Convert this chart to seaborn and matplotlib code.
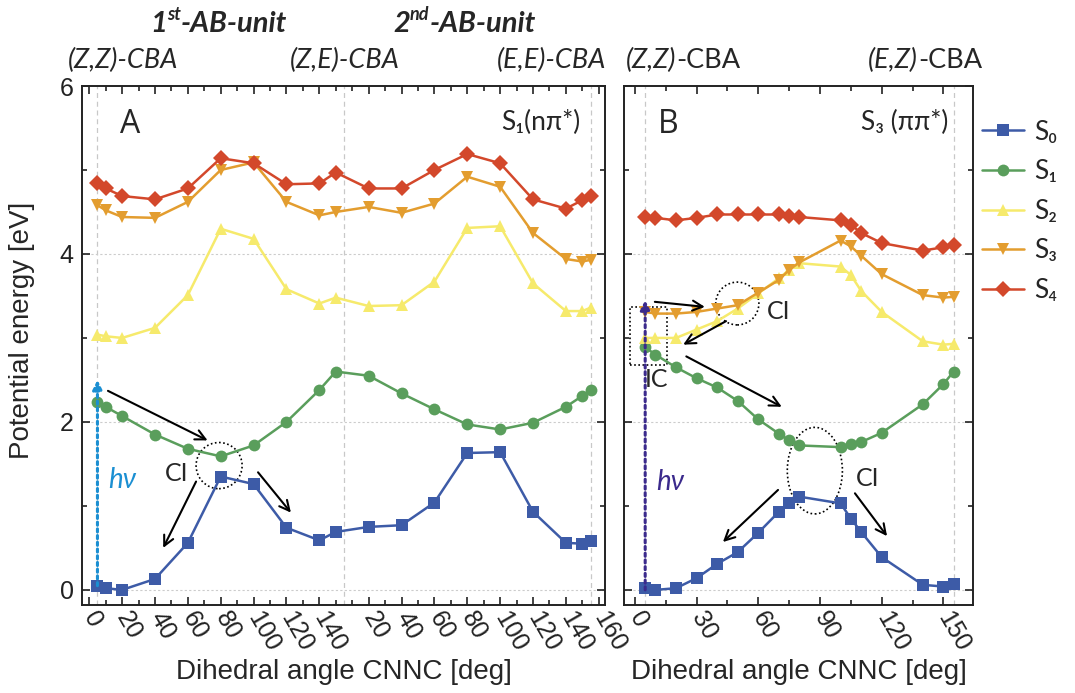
import matplotlib
matplotlib.use("Agg")
import matplotlib.pyplot as plt
from matplotlib.patches import Ellipse, Rectangle
from matplotlib.ticker import FixedLocator, MultipleLocator
import pandas as pd
import seaborn as sns

states = ["S₀", "S₁", "S₂", "S₃", "S₄"]
colors = ["#3d5ba7", "#5a9e5c", "#f6ea6c", "#e39d2f", "#d3482b"]
markers = ["s", "o", "^", "v", "D"]

# panel A: scan coordinate, 1st unit 0-150, 2nd unit shifted by +150
scan_a = [5, 10, 20, 40, 60, 80, 100, 120, 140, 150, 170, 190, 210, 230, 250, 270, 290, 300, 305]
s0_a = [0.05, 0.02, 0.00, 0.13, 0.56, 1.35, 1.26, 0.74, 0.59, 0.69, 0.75, 0.77, 1.04, 1.63, 1.64, 0.93, 0.56, 0.55, 0.58]
s1_a = [2.24, 2.18, 2.07, 1.85, 1.68, 1.59, 1.72, 2.00, 2.38, 2.60, 2.55, 2.34, 2.15, 1.97, 1.91, 1.99, 2.18, 2.31, 2.38]
s2_a = [3.04, 3.02, 3.00, 3.12, 3.51, 4.30, 4.18, 3.58, 3.41, 3.48, 3.38, 3.39, 3.67, 4.31, 4.33, 3.65, 3.32, 3.32, 3.36]
s3_a = [4.58, 4.52, 4.44, 4.43, 4.62, 5.00, 5.09, 4.62, 4.46, 4.50, 4.56, 4.49, 4.60, 4.92, 4.80, 4.25, 3.94, 3.91, 3.93]
s4_a = [4.85, 4.78, 4.69, 4.65, 4.78, 5.14, 5.08, 4.83, 4.84, 4.97, 4.78, 4.78, 5.00, 5.19, 5.08, 4.65, 4.54, 4.64, 4.69]

# panel B: dihedral angle of the single unit
angle_b = [5, 10, 20, 30, 40, 50, 60, 70, 75, 80, 100, 105, 110, 120, 140, 150, 155]
s0_b = [0.02, 0.00, 0.02, 0.14, 0.31, 0.45, 0.68, 0.93, 1.03, 1.11, 1.03, 0.85, 0.69, 0.39, 0.06, 0.04, 0.07]
s1_b = [2.89, 2.80, 2.65, 2.52, 2.41, 2.25, 2.03, 1.86, 1.78, 1.72, 1.70, 1.74, 1.76, 1.87, 2.21, 2.45, 2.60]
s2_b = [3.00, 3.00, 3.00, 3.10, 3.20, 3.35, 3.53, 3.71, 3.81, 3.89, 3.85, 3.75, 3.56, 3.31, 2.96, 2.92, 2.93]
s3_b = [3.31, 3.29, 3.29, 3.31, 3.35, 3.39, 3.54, 3.69, 3.81, 3.90, 4.16, 4.09, 3.98, 3.76, 3.51, 3.48, 3.49]
s4_b = [4.44, 4.43, 4.40, 4.43, 4.47, 4.47, 4.47, 4.47, 4.45, 4.44, 4.40, 4.35, 4.25, 4.13, 4.04, 4.08, 4.11]

ticks_a = [0, 20, 40, 60, 80, 100, 120, 140, 170, 190, 210, 230, 250, 270, 290, 310]
ticklabels_a = ["0", "20", "40", "60", "80", "100", "120", "140",
                "20", "40", "60", "80", "100", "120", "140", "160"]

sns.set_style("ticks")
plt.rcParams["font.family"] = ["Lato", "DejaVu Sans"]
num_font = ["Liberation Sans", "DejaVu Sans"]


def long_frame(x, series):
    df = pd.DataFrame({"x": x, **dict(zip(states, series))})
    return df.melt(id_vars="x", var_name="state", value_name="energy")


def draw_states(ax, df, legend):
    sns.lineplot(data=df, x="x", y="energy", hue="state", style="state",
                 hue_order=states, style_order=states,
                 palette=dict(zip(states, colors)), markers=dict(zip(states, markers)),
                 dashes=False, estimator=None, linewidth=1.8, markersize=8.5,
                 markeredgewidth=0, legend=legend, ax=ax)


def style_axes(ax):
    ax.set_ylim(-0.18, 6.0)
    ax.yaxis.set_major_locator(FixedLocator([0, 2, 4, 6]))
    ax.yaxis.set_minor_locator(FixedLocator([1, 3, 5]))
    ax.tick_params(which="both", direction="in", top=True, right=True, width=1.2, colors="#222222")
    ax.tick_params(which="major", length=6, labelsize=18, pad=6)
    ax.tick_params(which="minor", length=3.5)
    for s in ax.spines.values():
        s.set_linewidth(1.4)
        s.set_color("#222222")
    for y in (0, 2, 4):
        ax.axhline(y, color="#cccccc", lw=0.8, ls=(0, (2, 2)), zorder=0)
    ax.set_xlabel("Dihedral angle CNNC [deg]", fontsize=20, family=num_font, va="center")
    ax.xaxis.set_label_coords(0.5, -0.129)
    ax.set_ylabel("")
    for lab in ax.get_xticklabels() + ax.get_yticklabels():
        lab.set_family(num_font)
    plt.setp(ax.get_xticklabels(), rotation=-60, ha="left", va="center", rotation_mode="anchor")


def arrow(ax, start, end, color="black", lw=1.5, ls="-", style="->", scale=18):
    ax.annotate("", xy=end, xytext=start,
                arrowprops=dict(arrowstyle=style, color=color, lw=lw, ls=ls,
                                mutation_scale=scale, shrinkA=0, shrinkB=0))


fig = plt.figure(figsize=(10.75, 6.93), dpi=100)
ax_a = fig.add_axes([82 / 1075, 1 - 605 / 693, 523 / 1075, 519 / 693])
ax_b = fig.add_axes([624 / 1075, 1 - 605 / 693, 349 / 1075, 519 / 693])

# ---- panel A
for x in (5, 155, 305):
    ax_a.axvline(x, color="#c8c8c8", lw=0.9, ls=(0, (4, 3)), zorder=0)
draw_states(ax_a, long_frame(scan_a, [s0_a, s1_a, s2_a, s3_a, s4_a]), legend=False)
ax_a.set_xlim(-4.4, 313.8)
ax_a.set_xticks(ticks_a)
ax_a.set_xticklabels(ticklabels_a)
ax_a.xaxis.set_minor_locator(FixedLocator([10, 30, 50, 70, 90, 110, 130, 150, 160, 180, 200,
                                           220, 240, 260, 280, 300]))
style_axes(ax_a)

ax_a.text(25, 5.54, "A", fontsize=23, ha="center", va="center", family=["Open Sans", "DejaVu Sans"])
ax_a.text(275, 5.57, "S₁(nπ*)", fontsize=19, ha="center", va="center")
arrow(ax_a, (5, 0.05), (5, 2.5), color="#1b8fd2", lw=2.2, ls=(0, (1, 1.2)), style="-|>", scale=14)
ax_a.text(20, 1.31, "hν", color="#1b8fd2", fontsize=20, style="italic", ha="center", va="center")
arrow(ax_a, (11.4, 2.37), (72, 1.78))
arrow(ax_a, (65, 1.29), (45, 0.50))
arrow(ax_a, (102.7, 1.40), (122.7, 0.92))
ax_a.add_patch(Ellipse((79, 1.48), 28, 0.55, fill=False, ls=(0, (1, 1.5)), lw=1.2, color="black"))
ax_a.text(53, 1.38, "CI", fontsize=18, ha="center", va="center")

# ---- panel B
for x in (5, 155):
    ax_b.axvline(x, color="#c8c8c8", lw=0.9, ls=(0, (4, 3)), zorder=0)
draw_states(ax_b, long_frame(angle_b, [s0_b, s1_b, s2_b, s3_b, s4_b]), legend=True)
ax_b.set_xlim(-5.3, 164.4)
ax_b.xaxis.set_major_locator(MultipleLocator(30))
ax_b.xaxis.set_minor_locator(MultipleLocator(15))
style_axes(ax_b)
ax_b.tick_params(labelleft=False)

ax_b.text(16, 5.54, "B", fontsize=23, ha="center", va="center", family=["Open Sans", "DejaVu Sans"])
ax_b.text(131, 5.57, "S₃ (ππ*)", fontsize=19, ha="center", va="center")
arrow(ax_b, (5, 0.0), (5, 3.45), color="#3b2a8c", lw=2.2, ls=(0, (1, 1.2)), style="-|>", scale=14)
ax_b.text(17, 1.29, "hν", color="#3b2a8c", fontsize=20, style="italic", ha="center", va="center")
ax_b.add_patch(Rectangle((-2.4, 2.68), 17.8, 0.69, fill=False, ls=(0, (1, 1.5)), lw=1.2, color="black"))
ax_b.text(10.7, 2.5, "IC", fontsize=18, ha="center", va="center")
arrow(ax_b, (9.7, 3.43), (34, 3.37))
arrow(ax_b, (44.3, 3.2), (23.5, 2.92))
arrow(ax_b, (25, 2.78), (71.4, 2.18))
ax_b.add_patch(Ellipse((49.8, 3.41), 21, 0.51, fill=False, ls=(0, (1, 1.5)), lw=1.2, color="black"))
ax_b.text(70, 3.32, "CI", fontsize=18, ha="center", va="center")
ax_b.add_patch(Ellipse((87.5, 1.42), 26.8, 1.03, fill=False, ls=(0, (1, 1.5)), lw=1.2, color="black"))
ax_b.text(113, 1.33, "CI", fontsize=18, ha="center", va="center")
arrow(ax_b, (69.6, 1.19), (42.8, 0.57))
arrow(ax_b, (107, 1.15), (122.6, 0.64))

sns.move_legend(ax_b, "upper left", bbox_to_anchor=(1.025, 0.935), frameon=False, title=None,
                fontsize=19, borderaxespad=0, borderpad=0, handlelength=1.6,
                handletextpad=0.4, labelspacing=0.55)

fig.text(22 / 1075, 1 - 330 / 693, "Potential energy [eV]", rotation=90, fontsize=20,
         family=num_font, ha="center", va="center")

# header labels
row1 = 1 - 32 / 693
row2 = 1 - 68 / 693


def header(x_px, parts):
    prev = None
    for text, kw in parts:
        if prev is None:
            prev = fig.text(x_px / 1075, row2 if kw.pop("row", 2) == 2 else row1, text,
                            ha="left", va="baseline", fontsize=kw.pop("size", 19.5), **kw)
            base = prev
        else:
            rise = kw.pop("rise", 0)
            prev = ax_a.annotate(text, xy=(1, 0), xycoords=(prev, base), xytext=(0, rise),
                                 textcoords="offset points", ha="left", va="bottom",
                                 fontsize=kw.pop("size", 19.5), annotation_clip=False, **kw)


bi = dict(weight="bold", style="italic")
header(150, [("1", dict(row=1, size=21, **bi)), ("st", dict(size=13, rise=10, **bi)),
             ("-AB-unit", dict(size=21, **bi))])
header(393, [("2", dict(row=1, size=21, **bi)), ("nd", dict(size=13, rise=10, **bi)),
             ("-AB-unit", dict(size=21, **bi))])
header(68, [("(Z,Z)-CBA", dict(style="italic"))])
header(290, [("(Z,E)-CBA", dict(style="italic"))])
header(497, [("(E,E)-CBA", dict(style="italic"))])
header(626, [("(Z,Z)", dict(style="italic")), ("-CBA", dict())])
header(868, [("(E,Z)", dict(style="italic")), ("-CBA", dict())])

fig.savefig("out.png", dpi=100)
